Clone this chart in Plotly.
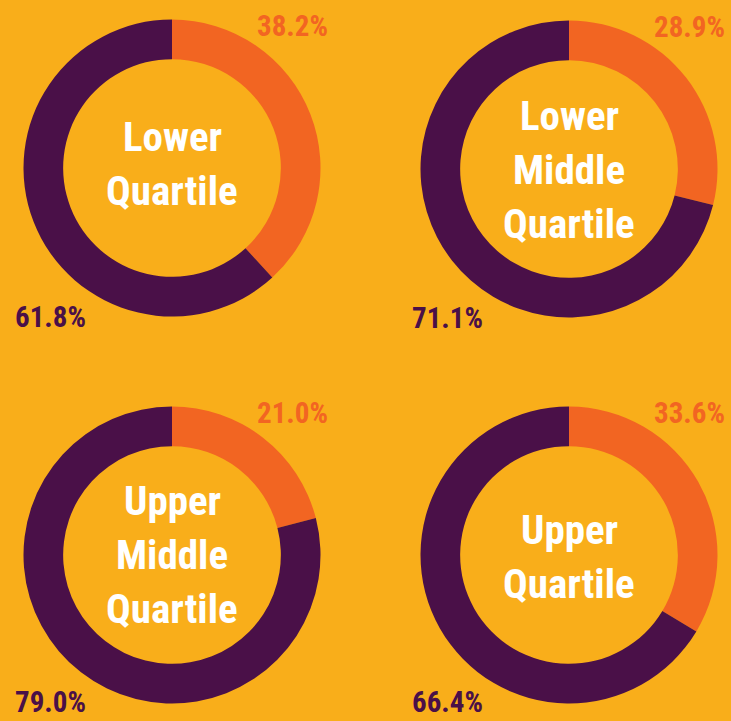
import plotly.graph_objects as go

# ---- data ----
groups = [["Lower", "Quartile"], ["Lower", "Middle", "Quartile"],
          ["Upper", "Middle", "Quartile"], ["Upper", "Quartile"]]
share_orange = [38.2, 28.9, 21.0, 33.6]
share_purple = [61.8, 71.1, 79.0, 66.4]
slice_names = ["Orange", "Purple"]

W, H = 731, 721
BG = "#F9AE1A"
ORANGE = "#F26522"
PURPLE = "#4A1048"
FAM = "Roboto"
CENTER_SIZE = 41
PCT_SIZE = 29


def cond(s):
    return f'<span style="font-stretch:condensed">{s}</span>'


centres = [(172, 168), (569, 169), (172, 555), (569, 555)]
label_mid = [163, 169, 554, 556]
R = 148.5
LINE = 54

fig = go.Figure()
for i, (g, o, p) in enumerate(zip(groups, share_orange, share_purple)):
    cx, cy = centres[i]
    fig.add_trace(go.Pie(
        labels=slice_names, values=[o, p], hole=0.733, sort=False,
        direction="clockwise", rotation=0,
        marker=dict(colors=[ORANGE, PURPLE], line=dict(width=0)),
        textinfo="none", hoverinfo="label+value", showlegend=False,
        domain=dict(x=[(cx - R) / W, (cx + R) / W], y=[1 - (cy + R) / H, 1 - (cy - R) / H]),
    ))
    n = len(g)
    for j, line in enumerate(g):
        ly = label_mid[i] + (j - (n - 1) / 2) * LINE + 1
        fig.add_annotation(x=cx / W, y=1 - ly / H, xref="paper", yref="paper",
                           text=cond(line), showarrow=False, xanchor="center", yanchor="middle",
                           font=dict(family=FAM, size=CENTER_SIZE, color="white", weight="bold"))
    fig.add_annotation(x=(cx + R + 9) / W, y=1 - (cy - 142) / H, xref="paper", yref="paper",
                       text=cond(f"{o:.1f}%"), showarrow=False, xanchor="right", yanchor="middle",
                       font=dict(family=FAM, size=PCT_SIZE, color=ORANGE, weight="bold"))
    pb = min(cy + 148 + 20, H)
    fig.add_annotation(x=(cx - R - 11) / W, y=1 - pb / H, xref="paper", yref="paper",
                       text=cond(f"{p:.1f}%"), showarrow=False, xanchor="left", yanchor="bottom",
                       font=dict(family=FAM, size=PCT_SIZE, color=PURPLE, weight="bold"))

fig.update_layout(width=W, height=H, margin=dict(l=0, r=0, t=0, b=0),
                  paper_bgcolor=BG, plot_bgcolor=BG)
fig.write_html("out.html", post_script="document.body.style.margin='0';",
               config={"displayModeBar": False})
